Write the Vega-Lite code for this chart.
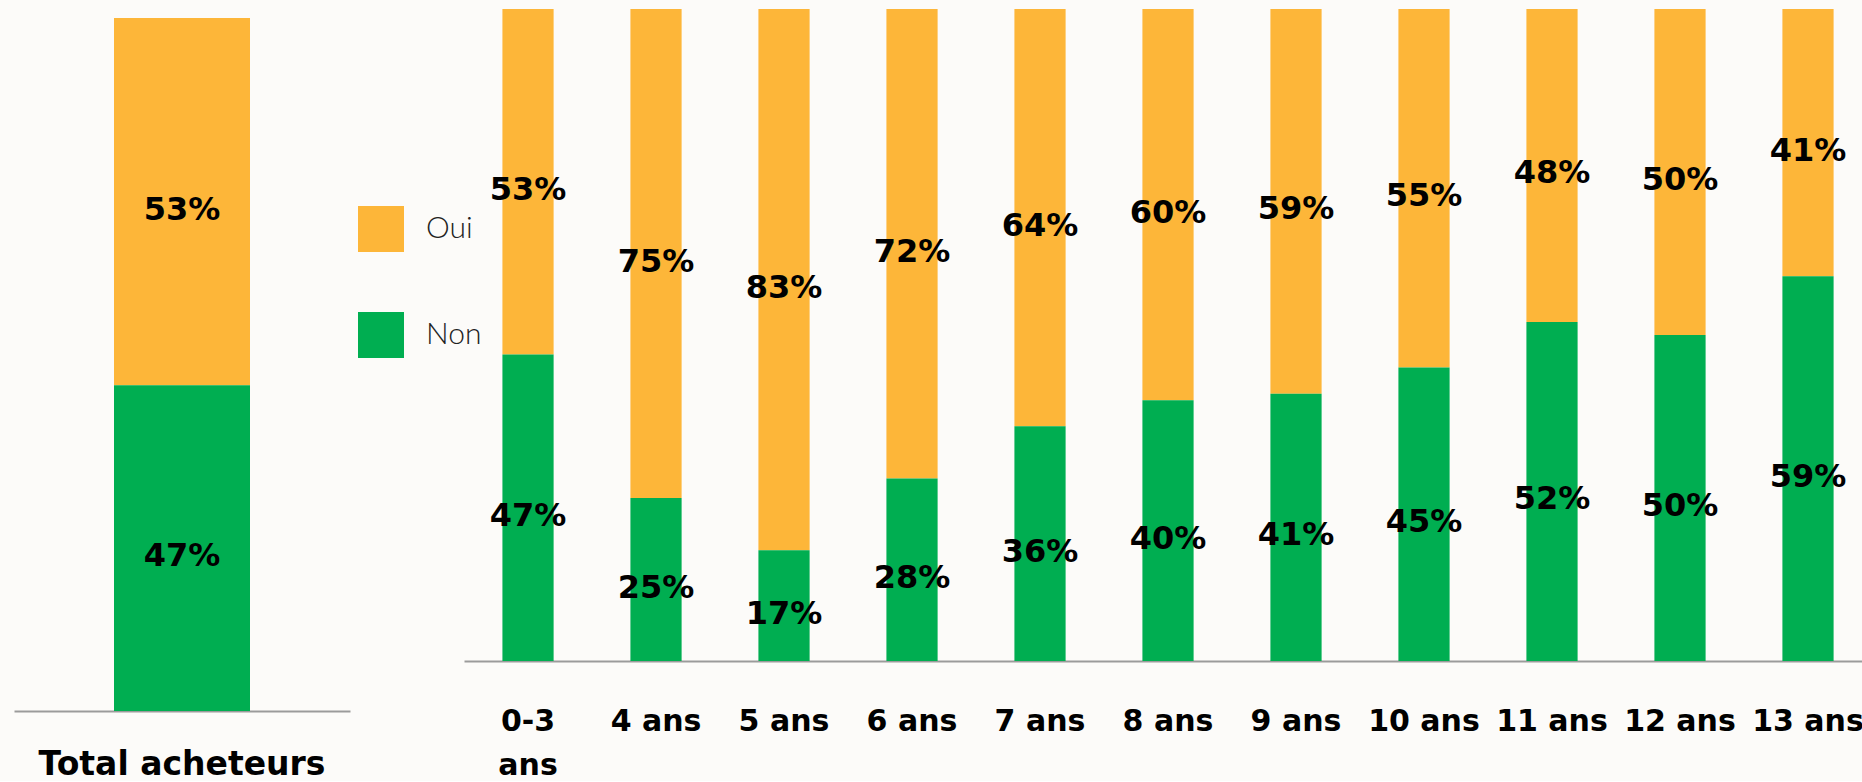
{
  "$schema": "https://vega.github.io/schema/vega-lite/v6.json",
  "background": "#FCFBF9",
  "padding": {"left": 14, "top": 9, "right": 0, "bottom": 0},
  "bounds": "flush",
  "spacing": 114,
  "config": {
    "view": {"stroke": null},
    "font": "DejaVu Sans",
    "legend": {
      "orient": "none",
      "legendX": 344,
      "legendY": 197,
      "padding": 0,
      "title": null,
      "symbolType": "square",
      "symbolSize": 2116,
      "symbolStrokeWidth": 0,
      "symbolOpacity": 1,
      "labelFont": "Lato",
      "labelFontWeight": 300,
      "labelFontSize": 30,
      "labelColor": "#222222",
      "labelOffset": 22,
      "rowPadding": 60
    }
  },
  "datasets": {
    "total": [
      {"group": "Total acheteurs", "answer": "Oui", "value": 0.53},
      {"group": "Total acheteurs", "answer": "Non", "value": 0.47}
    ],
    "ages": [
      {"age": "0-3 ans", "answer": "Oui", "value": 0.53},
      {"age": "0-3 ans", "answer": "Non", "value": 0.47},
      {"age": "4 ans", "answer": "Oui", "value": 0.75},
      {"age": "4 ans", "answer": "Non", "value": 0.25},
      {"age": "5 ans", "answer": "Oui", "value": 0.83},
      {"age": "5 ans", "answer": "Non", "value": 0.17},
      {"age": "6 ans", "answer": "Oui", "value": 0.72},
      {"age": "6 ans", "answer": "Non", "value": 0.28},
      {"age": "7 ans", "answer": "Oui", "value": 0.64},
      {"age": "7 ans", "answer": "Non", "value": 0.36},
      {"age": "8 ans", "answer": "Oui", "value": 0.60},
      {"age": "8 ans", "answer": "Non", "value": 0.40},
      {"age": "9 ans", "answer": "Oui", "value": 0.59},
      {"age": "9 ans", "answer": "Non", "value": 0.41},
      {"age": "10 ans", "answer": "Oui", "value": 0.55},
      {"age": "10 ans", "answer": "Non", "value": 0.45},
      {"age": "11 ans", "answer": "Oui", "value": 0.48},
      {"age": "11 ans", "answer": "Non", "value": 0.52},
      {"age": "12 ans", "answer": "Oui", "value": 0.50},
      {"age": "12 ans", "answer": "Non", "value": 0.50},
      {"age": "13 ans", "answer": "Oui", "value": 0.41},
      {"age": "13 ans", "answer": "Non", "value": 0.59}
    ]
  },
  "hconcat": [
    {
      "width": 336,
      "height": 702,
      "data": {"name": "total"},
      "transform": [
        {"stack": "value", "groupby": ["group"], "sort": [{"field": "answer", "order": "ascending"}], "as": ["v0", "v1"]}
      ],
      "layer": [
        {
          "mark": {"type": "bar", "width": 136, "stroke": null},
          "encoding": {
            "x": {
              "field": "group", "type": "nominal",
              "scale": {"paddingInner": 0, "paddingOuter": 0},
              "axis": {
                "title": null, "labelAngle": 0, "ticks": false, "tickSize": 0,
                "domainColor": "#9B9B9B", "domainWidth": 2,
                "labelFont": "DejaVu Sans", "labelFontWeight": "bold", "labelFontSize": 33,
                "labelColor": "#000000", "labelPadding": 37, "labelLimit": 0, "labelOverlap": false
              }
            },
            "y": {"field": "v0", "type": "quantitative", "scale": {"domain": [0, 1.013], "nice": false, "zero": true}, "axis": null},
            "y2": {"field": "v1"},
            "color": {
              "field": "answer", "type": "nominal",
              "scale": {"domain": ["Oui", "Non"], "range": ["#FDB639", "#00AE51"]}
            }
          }
        },
        {
          "transform": [
            {"fold": ["v0", "v1"], "as": ["edge", "pos"]},
            {"aggregate": [{"op": "mean", "field": "pos", "as": "mid"}, {"op": "max", "field": "value", "as": "value"}], "groupby": ["group", "answer"]}
          ],
          "mark": {"type": "text", "font": "DejaVu Sans", "fontWeight": "bold", "fontSize": 32, "color": "#000000", "baseline": "middle", "align": "center", "dy": 8},
          "encoding": {
            "x": {"field": "group", "type": "nominal"},
            "y": {"field": "mid", "type": "quantitative"},
            "text": {"field": "value", "type": "quantitative", "format": ".0%"}
          }
        }
      ]
    },
    {
      "width": 1398,
      "height": 652,
      "data": {"name": "ages"},
      "transform": [
        {"stack": "value", "groupby": ["age"], "sort": [{"field": "answer", "order": "ascending"}], "as": ["v0", "v1"]}
      ],
      "layer": [
        {
          "mark": {"type": "bar", "stroke": null},
          "encoding": {
            "x": {
              "field": "age", "type": "nominal",
              "scale": {
                "domain": ["0-3 ans", "4 ans", "5 ans", "6 ans", "7 ans", "8 ans", "9 ans", "10 ans", "11 ans", "12 ans", "13 ans"],
                "paddingInner": 0.6, "paddingOuter": 0.261, "align": 0.575
              },
              "axis": {
                "title": null, "labelAngle": 0, "ticks": false, "tickSize": 0,
                "domainColor": "#9B9B9B", "domainWidth": 2,
                "labelFont": "DejaVu Sans", "labelFontWeight": "bold", "labelFontSize": 30,
                "labelColor": "#000000", "labelPadding": 45, "labelLimit": 0, "labelOverlap": false,
                "labelBound": false, "labelLineHeight": 44,
                "labelExpr": "datum.value == '0-3 ans' ? ['0-3', 'ans'] : datum.value"
              }
            },
            "y": {"field": "v0", "type": "quantitative", "scale": {"domain": [0, 1], "nice": false}, "axis": null},
            "y2": {"field": "v1"},
            "color": {"field": "answer", "type": "nominal"}
          }
        },
        {
          "transform": [
            {"fold": ["v0", "v1"], "as": ["edge", "pos"]},
            {"aggregate": [{"op": "mean", "field": "pos", "as": "mid"}, {"op": "max", "field": "value", "as": "value"}], "groupby": ["age", "answer"]}
          ],
          "mark": {"type": "text", "font": "DejaVu Sans", "fontWeight": "bold", "fontSize": 32, "color": "#000000", "baseline": "middle", "align": "center", "dy": 8},
          "encoding": {
            "x": {"field": "age", "type": "nominal"},
            "y": {"field": "mid", "type": "quantitative"},
            "text": {"field": "value", "type": "quantitative", "format": ".0%"}
          }
        }
      ]
    }
  ]
}
